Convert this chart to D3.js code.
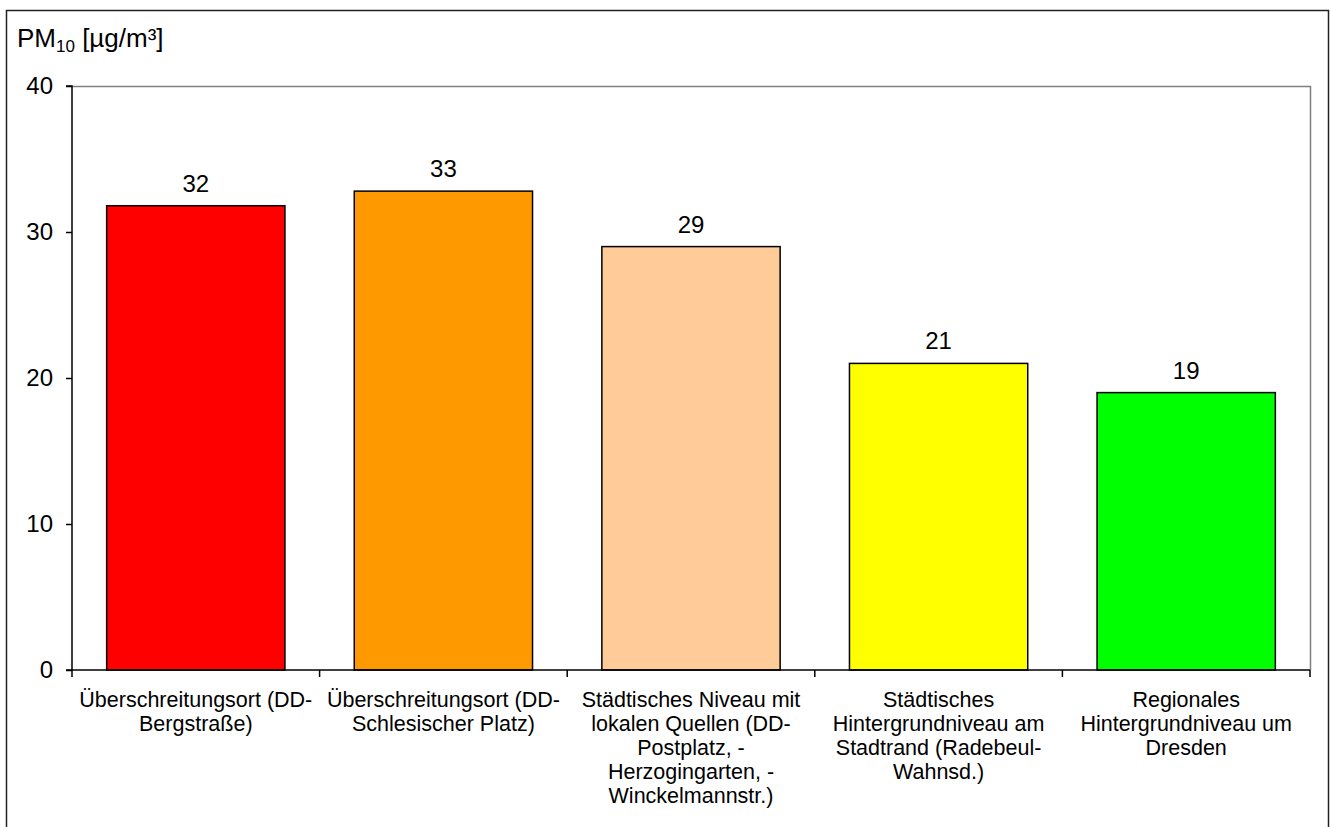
<!DOCTYPE html>
<html>
<head>
<meta charset="utf-8">
<script src="https://cdn.jsdelivr.net/npm/d3@7"></script>
<style>
  html, body { margin: 0; padding: 0; background: #fff; }
  svg { display: block; font-family: "Liberation Sans", Arial, sans-serif; }
</style>
</head>
<body>
<svg id="chart" width="1331" height="827"></svg>
<script>
// ---- data ----
const categories = [
  "Überschreitungsort (DD-\nBergstraße)",
  "Überschreitungsort (DD-\nSchlesischer Platz)",
  "Städtisches Niveau mit\nlokalen Quellen (DD-\nPostplatz, -\nHerzogingarten, -\nWinckelmannstr.)",
  "Städtisches\nHintergrundniveau am\nStadtrand (Radebeul-\nWahnsd.)",
  "Regionales\nHintergrundniveau um\nDresden"
];
const values = [31.8, 32.8, 29.0, 21.0, 19.0];
const barColors = ["#FF0000", "#FF9900", "#FFCC99", "#FFFF00", "#00FF00"];
const yTicks = [0, 10, 20, 30, 40];
const yTitleMain = "PM";
const yTitleSub = "10";
const yTitleRest = " [µg/m³]";

// ---- layout ----
const svg = d3.select("#chart");
const plot = { left: 72, right: 1310, top: 86, bottom: 670 };
const catFont = 21.5;
const numFont = 24;

// outer frame
svg.append("rect")
  .attr("x", 6.5).attr("y", 10.5)
  .attr("width", 1322).attr("height", 830)
  .attr("fill", "none").attr("stroke", "#222").attr("stroke-width", 1.5);

const x = d3.scaleBand()
  .domain(categories)
  .range([plot.left, plot.right])
  .paddingInner(0.28)
  .paddingOuter(0.14);

const y = d3.scaleLinear().domain([0, 40]).range([plot.bottom, plot.top]);

// plot area border (top & right grey)
svg.append("path")
  .attr("d", `M${plot.left},${plot.top + 0.5}H${plot.right + 0.5}V${plot.bottom}`)
  .attr("fill", "none").attr("stroke", "#808080").attr("stroke-width", 1.5);

// bars
svg.append("g").selectAll("rect")
  .data(values)
  .join("rect")
  .attr("x", (d, i) => x(categories[i]))
  .attr("y", d => y(d))
  .attr("width", x.bandwidth())
  .attr("height", d => y(0) - y(d))
  .attr("fill", (d, i) => barColors[i])
  .attr("stroke", "#000").attr("stroke-width", 1.5);

// value labels
svg.append("g").selectAll("text")
  .data(values)
  .join("text")
  .attr("x", (d, i) => x(categories[i]) + x.bandwidth() / 2)
  .attr("y", d => y(d) - 14)
  .attr("text-anchor", "middle")
  .attr("font-size", numFont)
  .attr("fill", "#000")
  .text(d => d3.format(".0f")(d));

// y axis
const yAxis = d3.axisLeft(y).tickValues(yTicks).tickSize(6).tickPadding(13).tickFormat(d3.format("d"));
const gy = svg.append("g").attr("transform", `translate(${plot.left},0)`).call(yAxis);
gy.select(".domain").attr("stroke", "#000").attr("stroke-width", 1.5).attr("d", `M-6,${plot.top}H0V${plot.bottom}H-6`);
gy.selectAll(".tick line").attr("stroke", "#000").attr("stroke-width", 1.5);
gy.selectAll(".tick text")
  .attr("font-size", numFont)
  .attr("font-family", "Liberation Sans, Arial, sans-serif")
  .attr("fill", "#000");

// x axis line
svg.append("line")
  .attr("x1", plot.left).attr("x2", plot.right)
  .attr("y1", plot.bottom).attr("y2", plot.bottom)
  .attr("stroke", "#000").attr("stroke-width", 1.5);

// x category boundary ticks
const boundaries = d3.range(categories.length + 1).map(i => x.range()[0] + i * x.step());
svg.append("g").selectAll("line")
  .data(boundaries)
  .join("line")
  .attr("x1", d => d).attr("x2", d => d)
  .attr("y1", plot.bottom).attr("y2", plot.bottom + 7)
  .attr("stroke", "#000").attr("stroke-width", 1.5);

// category labels
const catG = svg.append("g");
categories.forEach((c, i) => {
  const t = catG.append("text")
    .attr("x", x(c) + x.bandwidth() / 2)
    .attr("y", 707)
    .attr("text-anchor", "middle")
    .attr("font-size", catFont)
    .attr("fill", "#000");
  c.split("\n").forEach((line, j) => {
    t.append("tspan")
      .attr("x", x(c) + x.bandwidth() / 2)
      .attr("dy", j === 0 ? 0 : 24)
      .text(line);
  });
});

// y title
const title = svg.append("text")
  .attr("x", 17).attr("y", 47)
  .attr("font-size", 26)
  .attr("fill", "#000");
title.append("tspan").text(yTitleMain);
title.append("tspan").attr("font-size", 17).attr("dy", 5).text(yTitleSub);
title.append("tspan").attr("dy", -5).text(yTitleRest);
</script>
</body>
</html>
